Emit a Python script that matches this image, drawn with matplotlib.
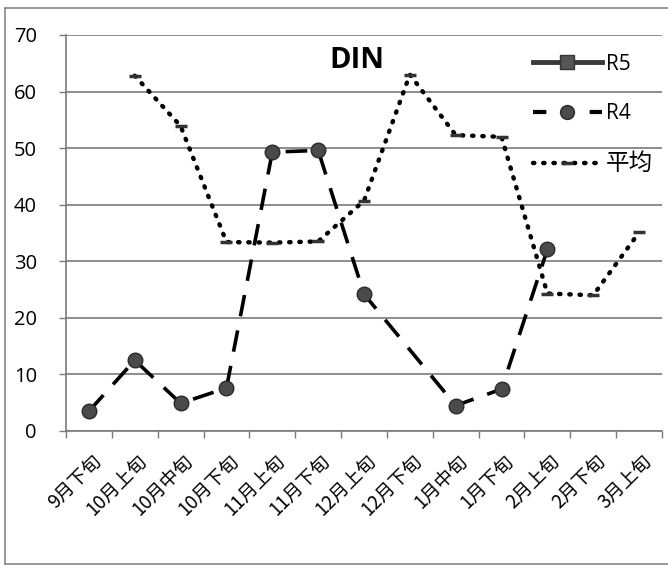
import matplotlib
matplotlib.use("Agg")
import matplotlib.pyplot as plt
import matplotlib.transforms as mtransforms
import numpy as np
from matplotlib.lines import Line2D

plt.rcParams['font.family'] = ['Noto Sans CJK SC', 'DejaVu Sans']

categories = ["9月下旬", "10月上旬", "10月中旬", "10月下旬", "11月上旬", "11月下旬",
              "12月上旬", "12月下旬", "1月中旬", "1月下旬", "2月上旬", "2月下旬", "3月上旬"]
nan = np.nan
r5 = [nan] * 13
r4 = [3.5, 12.5, 4.9, 7.6, 49.3, 49.6, 24.2, nan, 4.5, 7.4, 32.1, nan, nan]
avg = [nan, 62.8, 53.9, 33.4, 33.3, 33.5, 40.7, 63.0, 52.3, 52.0, 24.3, 24.0, 35.1]
yticks = [0, 10, 20, 30, 40, 50, 60, 70]

fig = plt.figure(figsize=(6.68, 5.67), dpi=100)
ax = fig.add_axes([66/668, 1-431/567, (662-66)/668, (431-35)/567])

x = np.arange(len(categories))

# R4: dashed line through valid points (gaps bridged)
r4a = np.array(r4)
m4 = ~np.isnan(r4a)
ax.plot(x[m4], r4a[m4], color='black', lw=2.6, dashes=(6, 4), zorder=3)
ax.plot(x[m4], r4a[m4], ls='none', marker='o', ms=10.5, mfc='#4a4a4a', mec='#2a2a2a', mew=1, zorder=4)

# Average: dotted line with short dash markers
av = np.array(avg)
ma = ~np.isnan(av)
ax.plot(x[ma], av[ma], color='black', lw=3.2, ls=(0, (0.3, 2.0)), dash_capstyle='round', zorder=3)
ax.plot(x[ma], av[ma], ls='none', marker='_', ms=8, mew=2.5, color='#333333', zorder=4)

# R5 (no data visible)
ax.plot(x, r5, color='#3a3a3a', lw=3, marker='s', ms=8, mfc='#555555')

ax.set_xlim(-0.5, len(categories) - 0.5)
ax.set_ylim(0, 70)
ax.set_yticks(yticks)
ax.set_yticklabels([str(v) for v in yticks], fontsize=14.5, family=['Open Sans', 'DejaVu Sans'])
ax.yaxis.grid(True, color='#7a7a7a', lw=1.2)
ax.set_axisbelow(True)

ax.set_xticks(x)
ax.set_xticklabels(categories, rotation=45, ha='right', rotation_mode='anchor', fontsize=13.5)
ax.set_xticks(np.arange(-0.5, len(categories), 1), minor=True)
ax.tick_params(axis='x', which='major', length=0, pad=14)
ax.tick_params(axis='x', which='minor', length=5, color='#7a7a7a', width=1)
ax.tick_params(axis='y', length=5, color='#7a7a7a', width=1, pad=16)
for lbl in ax.get_xticklabels():
    lbl.set_transform(lbl.get_transform() + mtransforms.ScaledTranslation(2/100, 0, fig.dpi_scale_trans))

for s in ['top', 'right']:
    ax.spines[s].set_visible(False)
for s in ['left', 'bottom']:
    ax.spines[s].set_color('#7a7a7a')
    ax.spines[s].set_linewidth(1.2)

ax.text((357-66)/596, (431-61)/396, "DIN", transform=ax.transAxes, fontsize=21, fontweight='bold',
        ha='center', va='center', family=['Open Sans', 'DejaVu Sans'])

handles = [
    Line2D([], [], color='#3a3a3a', lw=3.5, marker='s', ms=10, mfc='#555555', mec='#333333'),
    Line2D([], [], color='black', lw=3, dashes=(3.2, 10.4), marker='o', ms=10, mfc='#4a4a4a', mec='#2a2a2a'),
    Line2D([], [], color='black', lw=3.2, ls=(0, (0.3, 2.0)), dash_capstyle='round', marker='_', ms=8, mew=2.5, mec='#333333'),
]
leg = ax.legend(handles, ["R5", "R4", "平均"], loc='upper left', bbox_to_anchor=(0.752, 1.0),
                frameon=False, fontsize=15, labelspacing=1.35, handlelength=3.3, handletextpad=0.2)
texts = leg.get_texts()
for t in texts[:2]:
    t.set_family(['Open Sans', 'DejaVu Sans'])
texts[2].set_fontsize(17)

# outer frame
fig.add_artist(Line2D([5/668, 5/668], [1-564/567, 1-8/567], color='#888888', lw=1.2, transform=fig.transFigure))
fig.add_artist(Line2D([5/668, 1], [1-8/567, 1-8/567], color='#888888', lw=1.2, transform=fig.transFigure))
fig.add_artist(Line2D([5/668, 1], [1-564/567, 1-564/567], color='#888888', lw=1.2, transform=fig.transFigure))

fig.savefig("out.png", dpi=100)
